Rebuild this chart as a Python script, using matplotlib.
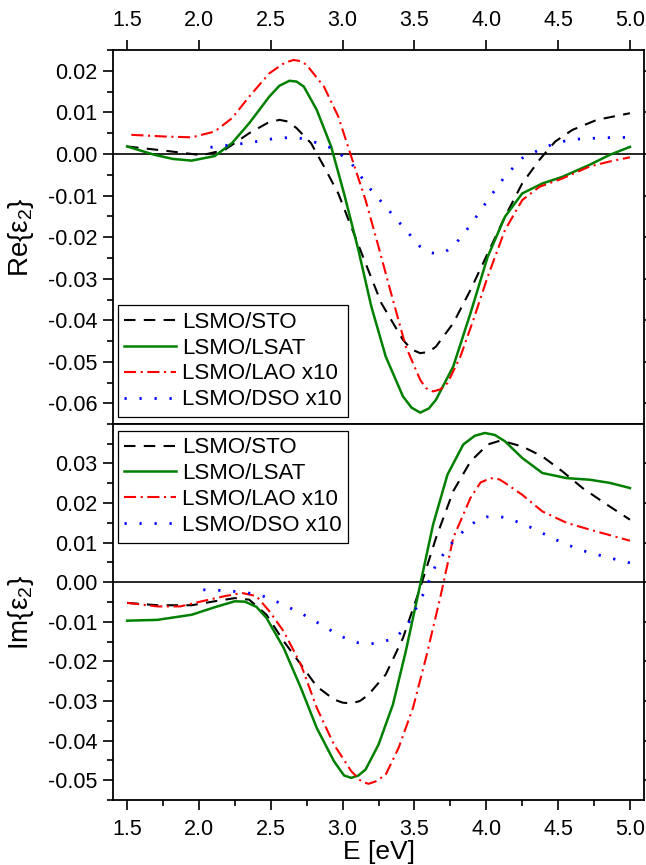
import matplotlib
matplotlib.use("Agg")
import matplotlib.pyplot as plt
from matplotlib.ticker import MultipleLocator, FuncFormatter

plt.rcParams['font.family'] = ['Liberation Sans', 'DejaVu Sans']
plt.rcParams['mathtext.fontset'] = 'custom'
plt.rcParams['mathtext.rm'] = 'Liberation Sans'
plt.rcParams['mathtext.it'] = 'Liberation Sans'
plt.rcParams['axes.unicode_minus'] = False

# Re{eps2} spectra
re_sto_e = [1.50, 1.76, 2.02, 2.18, 2.35, 2.48, 2.56, 2.62, 2.68, 2.78, 2.87, 2.97, 3.06, 3.16,
            3.27, 3.42, 3.48, 3.54, 3.60, 3.65, 3.77, 3.89, 4.01, 4.13, 4.25, 4.37, 4.48,
            4.60, 4.77, 5.00]
re_sto = [0.0018, 0.0008, -0.0003, 0.0010, 0.0050, 0.0075, 0.0082, 0.0078, 0.0062, 0.0026,
          -0.0030, -0.0095, -0.0175, -0.0263, -0.0359, -0.0447, -0.0470, -0.0479, -0.0476,
          -0.0463, -0.0407, -0.0327, -0.0239, -0.0151, -0.0071, -0.0014, 0.0030, 0.0058,
          0.0082, 0.0098]

re_lsat_e = [1.50, 1.69, 1.82, 1.95, 2.11, 2.23, 2.35, 2.49, 2.56, 2.63, 2.68, 2.73, 2.82,
             2.92, 3.01, 3.11, 3.20, 3.30, 3.42, 3.48, 3.54, 3.60, 3.65, 3.77, 3.89, 4.01,
             4.13, 4.25, 4.39, 4.53, 4.72, 4.86, 5.00]
re_lsat = [0.0018, -0.0002, -0.0012, -0.0016, -0.0005, 0.0026, 0.0074, 0.0138, 0.0164,
           0.0176, 0.0174, 0.0162, 0.0106, 0.0018, -0.0095, -0.0231, -0.0367, -0.0487,
           -0.0583, -0.0610, -0.0622, -0.0612, -0.0591, -0.0511, -0.0383, -0.0247, -0.0151,
           -0.0095, -0.0071, -0.0055, -0.0026, -0.0002, 0.0017]

re_lao_e = [1.53, 1.76, 1.95, 2.11, 2.23, 2.35, 2.49, 2.60, 2.66, 2.71, 2.75, 2.87, 2.97,
            3.06, 3.16, 3.25, 3.35, 3.44, 3.54, 3.58, 3.63, 3.68, 3.73, 3.82, 3.91, 4.01,
            4.13, 4.25, 4.37, 4.53, 4.72, 4.86, 5.00]
re_lao = [0.0046, 0.0042, 0.0040, 0.0054, 0.0086, 0.0138, 0.0194, 0.0220, 0.0226, 0.0223,
          0.0214, 0.0162, 0.0090, -0.0006, -0.0111, -0.0223, -0.0351, -0.0463, -0.0543,
          -0.0563, -0.0571, -0.0566, -0.0551, -0.0487, -0.0399, -0.0295, -0.0183, -0.0111,
          -0.0079, -0.0059, -0.0030, -0.0018, -0.0008]

re_dso_e = [2.08, 2.18, 2.35, 2.54, 2.68, 2.82, 2.94, 3.06, 3.18, 3.30, 3.42, 3.54, 3.60,
            3.65, 3.71, 3.77, 3.89, 4.01, 4.13, 4.25, 4.37, 4.48, 4.60, 4.82, 5.00]
re_dso = [0.0016, 0.0020, 0.0027, 0.0038, 0.0040, 0.0027, 0.0012, -0.0022, -0.0079, -0.0127,
          -0.0175, -0.0223, -0.0236, -0.0240, -0.0236, -0.0223, -0.0171, -0.0111, -0.0054,
          -0.0010, 0.0010, 0.0026, 0.0035, 0.0039, 0.0040]

# Im{eps2} spectra
im_sto_e = [1.50, 1.71, 1.95, 2.11, 2.25, 2.35, 2.47, 2.59, 2.71, 2.82, 2.94, 3.00, 3.06,
            3.12, 3.18, 3.30, 3.42, 3.54, 3.65, 3.77, 3.89, 4.01, 4.10, 4.25, 4.39, 4.53,
            4.67, 4.84, 5.00]
im_sto = [-0.0052, -0.0058, -0.0058, -0.0048, -0.0040, -0.0044, -0.0082, -0.0149, -0.0208,
          -0.0263, -0.0296, -0.0304, -0.0306, -0.0300, -0.0284, -0.0233, -0.0141, -0.0014,
          0.0112, 0.0230, 0.0305, 0.0348, 0.0358, 0.0343, 0.0318, 0.0280, 0.0238, 0.0196,
          0.0158]

im_lsat_e = [1.50, 1.71, 1.95, 2.11, 2.25, 2.32, 2.40, 2.47, 2.59, 2.71, 2.82, 2.94, 3.01,
             3.06, 3.11, 3.16, 3.25, 3.35, 3.44, 3.54, 3.63, 3.73, 3.84, 3.92, 3.99, 4.06,
             4.13, 4.25, 4.39, 4.56, 4.72, 4.86, 5.00]
im_lsat = [-0.0097, -0.0095, -0.0082, -0.0063, -0.0048, -0.0049, -0.0062, -0.0090, -0.0166,
           -0.0267, -0.0368, -0.0452, -0.0488, -0.0494, -0.0488, -0.0473, -0.0410, -0.0309,
           -0.0174, -0.0006, 0.0146, 0.0272, 0.0348, 0.0370, 0.0377, 0.0372, 0.0356, 0.0314,
           0.0276, 0.0263, 0.0259, 0.0251, 0.0238]

im_lao_e = [1.50, 1.71, 1.87, 2.02, 2.18, 2.30, 2.40, 2.49, 2.59, 2.71, 2.82, 2.94, 3.06,
            3.13, 3.18, 3.23, 3.30, 3.39, 3.49, 3.58, 3.68, 3.77, 3.89, 3.96, 4.03, 4.09,
            4.13, 4.25, 4.39, 4.56, 4.72, 5.00]
im_lao = [-0.0052, -0.0061, -0.0061, -0.0048, -0.0035, -0.0027, -0.0035, -0.0073, -0.0124,
          -0.0208, -0.0317, -0.0410, -0.0477, -0.0503, -0.0509, -0.0503, -0.0486, -0.0418,
          -0.0317, -0.0191, -0.0038, 0.0112, 0.0213, 0.0252, 0.0263, 0.0260, 0.0251, 0.0221,
          0.0179, 0.0150, 0.0133, 0.0105]

im_dso_e = [2.03, 2.18, 2.30, 2.42, 2.56, 2.71, 2.85, 2.99, 3.11, 3.18, 3.25, 3.37, 3.46,
            3.56, 3.65, 3.75, 3.84, 3.94, 4.00, 4.06, 4.12, 4.18, 4.32, 4.48, 4.65, 4.82, 5.00]
im_dso = [-0.0019, -0.0021, -0.0025, -0.0031, -0.0052, -0.0078, -0.0107, -0.0137, -0.0153,
          -0.0156, -0.0153, -0.0141, -0.0103, -0.0031, 0.0045, 0.0095, 0.0129, 0.0158,
          0.0165, 0.0167, 0.0164, 0.0158, 0.0137, 0.0108, 0.0082, 0.0065, 0.0049]

labels = ['LSMO/STO', 'LSMO/LSAT', 'LSMO/LAO x10', 'LSMO/DSO x10']
styles = [
    dict(color='black', lw=1.5, dashes=(5.5, 4)),
    dict(color='#008000', lw=1.8, linestyle='-'),
    dict(color='red', lw=1.5, dashes=(5.8, 2.2, 1.0, 2.2)),
    dict(color='blue', lw=2.0, dashes=(0.8, 4.6)),
]

fig = plt.figure(figsize=(6.46, 8.65), dpi=100)
ax1 = fig.add_axes([0.1745, 0.5095, 0.8229, 0.4327])
ax2 = fig.add_axes([0.1745, 0.0751, 0.8229, 0.4344])

fmt = FuncFormatter(lambda v, p: '%.2f' % (round(v, 4) + 0.0))


def style_axes(ax, top_labels):
    ax.set_xlim(1.4, 5.1)
    ax.xaxis.set_major_locator(MultipleLocator(0.5))
    ax.xaxis.set_minor_locator(MultipleLocator(0.25))
    ax.yaxis.set_major_locator(MultipleLocator(0.01))
    ax.yaxis.set_minor_locator(MultipleLocator(0.005))
    ax.yaxis.set_major_formatter(fmt)
    ax.axhline(0, color='black', lw=1.2, zorder=1)
    for s in ax.spines.values():
        s.set_linewidth(1.3)
    ax.tick_params(axis='both', which='both', direction='out', width=1.2, labelsize=15.5)
    ax.tick_params(which='major', length=7)
    ax.tick_params(which='minor', length=4)
    ax.tick_params(axis='y', left=True, right=True, labelleft=True, labelright=False, pad=4)
    ax.tick_params(axis='x', top=top_labels, bottom=not top_labels,
                   labeltop=top_labels, labelbottom=not top_labels, pad=7)


style_axes(ax1, True)
style_axes(ax2, False)
ax1.set_ylim(-0.065, 0.025)
ax2.set_ylim(-0.055, 0.0399)

for e, v, lab, st in zip([re_sto_e, re_lsat_e, re_lao_e, re_dso_e],
                         [re_sto, re_lsat, re_lao, re_dso], labels, styles):
    ax1.plot(e, v, label=lab, **st)
for e, v, lab, st in zip([im_sto_e, im_lsat_e, im_lao_e, im_dso_e],
                         [im_sto, im_lsat, im_lao, im_dso], labels, styles):
    ax2.plot(e, v, label=lab, **st)

ax1.set_ylabel('Re{$\\varepsilon_2$}', fontsize=20)
ax2.set_ylabel('Im{$\\varepsilon_2$}', fontsize=20)
ax1.yaxis.set_label_coords(-0.145, 0.5)
ax2.yaxis.set_label_coords(-0.145, 0.5)
ax2.set_xlabel('E [eV]', fontsize=19, labelpad=0)

leg_kw = dict(fontsize=16, handlelength=2.3, handletextpad=0.3, labelspacing=0.22,
              borderpad=0.3, borderaxespad=0, fancybox=False, framealpha=1,
              edgecolor='black')
l1 = ax1.legend(loc='lower left', bbox_to_anchor=(0.0094, 0.0195), **leg_kw)
l2 = ax2.legend(loc='upper left', bbox_to_anchor=(0.0094, 0.983), **leg_kw)
for lg in (l1, l2):
    lg.get_frame().set_linewidth(0.9)

fig.savefig('out.png', dpi=100)
